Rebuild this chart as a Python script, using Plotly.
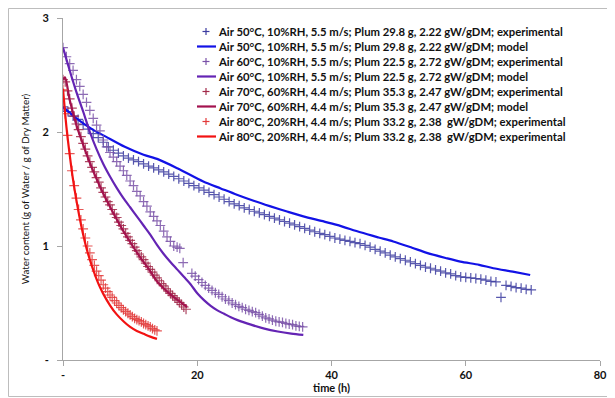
import plotly.graph_objects as go

FONT = "Lato"

# ---------------- data ----------------
# Air 50°C experimental
t_50_exp = [0, 0.75, 1.5, 2.25, 3.0, 3.75, 4.5, 5.25, 6.0, 6.75, 7.5, 8.25, 9.0, 9.75, 10.5, 11.25,
            12.0, 12.75, 13.5, 14.25, 15.0, 15.75, 16.5, 17.25, 18.0, 18.75, 19.5, 20.25, 21.0, 21.75,
            22.5, 23.25, 24.0, 24.75, 25.5, 26.25, 27.0, 27.75, 28.5, 29.25, 30.0, 30.75, 31.5, 32.25,
            33.0, 33.75, 34.5, 35.25, 36.0, 36.75, 37.5, 38.25, 39.0, 39.75, 40.5, 41.25, 42.0, 42.75,
            43.5, 44.25, 45.0, 45.75, 46.5, 47.25, 48.0, 48.75, 49.5, 50.25, 51.0, 51.75, 52.5, 53.25,
            54.0, 54.75, 55.5, 56.25, 57.0, 57.75, 58.5, 59.25, 60.0, 60.75, 61.5, 62.25, 63.0, 63.75,
            64.5, 65.25, 66.0, 66.75, 67.5, 68.25, 69.0, 69.75]
w_50_exp = [2.22, 2.18, 2.14, 2.11, 2.065, 2.025, 1.985, 1.95, 1.91, 1.87, 1.84, 1.815, 1.79, 1.77,
            1.755, 1.74, 1.72, 1.70, 1.685, 1.667, 1.65, 1.63, 1.61, 1.59, 1.57, 1.55, 1.53, 1.51,
            1.49, 1.47, 1.45, 1.43, 1.41, 1.39, 1.37, 1.355, 1.335, 1.32, 1.305, 1.29, 1.275, 1.26,
            1.245, 1.23, 1.215, 1.20, 1.185, 1.17, 1.155, 1.14, 1.125, 1.11, 1.10, 1.085, 1.07, 1.06,
            1.05, 1.04, 1.03, 1.02, 1.005, 0.99, 0.97, 0.955, 0.94, 0.92, 0.905, 0.89, 0.875, 0.86,
            0.845, 0.83, 0.815, 0.805, 0.79, 0.78, 0.765, 0.755, 0.74, 0.73, 0.725, 0.72, 0.715, 0.71,
            0.70, 0.69, 0.685, 0.55, 0.655, 0.645, 0.635, 0.63, 0.62, 0.615]
# Air 50°C model
t_50_mod = [0, 2, 4.2, 6.5, 9.2, 12, 14.2, 17.1, 20.9, 23.5, 25.9, 28.5, 30.8, 33.5, 35.8, 38.5,
            40.8, 44.3, 47, 49.2, 52, 54.2, 57, 59.2, 62, 64.1, 67, 69.6]
w_50_mod = [2.22, 2.12, 2.03, 1.955, 1.87, 1.80, 1.76, 1.68, 1.565, 1.505, 1.45, 1.395, 1.35, 1.30,
            1.26, 1.22, 1.185, 1.12, 1.075, 1.04, 0.985, 0.94, 0.895, 0.863, 0.835, 0.805, 0.775, 0.746]

# Air 60°C experimental
t_60_exp = [0, 0.5, 1.0, 1.5, 2.0, 2.5, 3.0, 3.5, 4.0, 4.5, 5.0, 5.5, 6.0, 6.5, 7.0, 7.5, 8.0, 8.5,
            9.0, 9.5, 10.0, 10.5, 11.0, 11.5, 12.0, 12.5, 13.0, 13.5, 14.0, 14.5, 15.0, 15.5, 16.0,
            16.5, 17.0, 17.4, 17.9, 19.2, 19.7, 20.2, 20.7, 21.2, 21.7, 22.2, 22.7, 23.2, 23.7, 24.2,
            24.7, 25.2, 25.7, 26.2, 26.7, 27.2, 27.7, 28.2, 28.7, 29.2, 29.7, 30.2, 30.7, 31.2, 31.7,
            32.2, 32.7, 33.2, 33.7, 34.2, 34.7, 35.2, 35.7]
w_60_exp = [2.74, 2.66, 2.60, 2.54, 2.46, 2.40, 2.33, 2.26, 2.19, 2.12, 2.06, 2.01, 1.93, 1.87, 1.82,
            1.78, 1.74, 1.70, 1.66, 1.62, 1.57, 1.53, 1.48, 1.44, 1.39, 1.35, 1.30, 1.26, 1.22, 1.18,
            1.13, 1.08, 1.04, 1.00, 0.99, 0.98, 0.855, 0.76, 0.735, 0.705, 0.68, 0.655, 0.63, 0.61,
            0.59, 0.575, 0.555, 0.535, 0.52, 0.50, 0.485, 0.47, 0.46, 0.445, 0.435, 0.425, 0.415,
            0.40, 0.385, 0.37, 0.36, 0.35, 0.34, 0.335, 0.33, 0.32, 0.315, 0.31, 0.30, 0.295, 0.29]
# Air 60°C model
t_60_mod = [0, 1, 2, 3, 4, 5, 6, 7, 8, 9, 10, 11, 12, 13, 14, 15, 16, 17, 18, 19, 20, 21, 22, 23,
            24, 25, 26, 28, 30, 32, 34, 35.8]
w_60_mod = [2.74, 2.54, 2.35, 2.18, 2.00, 1.85, 1.72, 1.61, 1.51, 1.42, 1.34, 1.26, 1.18, 1.10, 1.01,
            0.93, 0.86, 0.795, 0.73, 0.665, 0.585, 0.525, 0.475, 0.435, 0.405, 0.375, 0.35, 0.31,
            0.275, 0.25, 0.232, 0.22]

# Air 70°C experimental
t_70_exp = [0, 0.33, 0.67, 1.0, 1.33, 1.67, 2.0, 2.33, 2.67, 3.0, 3.33, 3.67, 4.0, 4.33, 4.67, 5.0,
            5.33, 5.67, 6.0, 6.33, 6.67, 7.0, 7.33, 7.67, 8.0, 8.33, 8.67, 9.0, 9.33, 9.67, 10.0,
            10.33, 10.67, 11.0, 11.33, 11.67, 12.0, 12.33, 12.67, 13.0, 13.33, 13.67, 14.0, 14.33,
            14.67, 15.0, 15.33, 15.67, 16.0, 16.33, 16.67, 17.0, 17.33, 17.67, 18.0, 18.33]
w_70_exp = [2.46, 2.44, 2.36, 2.29, 2.21, 2.14, 2.07, 2.02, 1.96, 1.90, 1.85, 1.79, 1.74, 1.69, 1.65,
            1.60, 1.56, 1.51, 1.47, 1.43, 1.39, 1.36, 1.32, 1.28, 1.25, 1.21, 1.18, 1.15, 1.11, 1.08,
            1.05, 1.02, 0.99, 0.96, 0.93, 0.905, 0.88, 0.85, 0.82, 0.795, 0.77, 0.745, 0.72, 0.695,
            0.67, 0.65, 0.625, 0.605, 0.585, 0.565, 0.545, 0.525, 0.505, 0.485, 0.465, 0.445]
# Air 70°C model
t_70_mod = [0, 0.3, 1, 2, 3, 4, 5, 6, 7, 8, 9, 10, 11, 12, 13, 14, 15, 16, 17, 18, 18.5]
w_70_mod = [2.46, 2.48, 2.28, 2.06, 1.89, 1.73, 1.59, 1.46, 1.345, 1.235, 1.13, 1.035, 0.945, 0.86,
            0.78, 0.69, 0.63, 0.575, 0.53, 0.485, 0.465]

# Air 80°C experimental
t_80_exp = [0, 0.33, 0.67, 1.0, 1.33, 1.67, 2.0, 2.33, 2.67, 3.0, 3.33, 3.67, 4.0, 4.33, 4.67, 5.0,
            5.33, 5.67, 6.0, 6.33, 6.67, 7.0, 7.33, 7.67, 8.0, 8.33, 8.67, 9.0, 9.33, 9.67, 10.0,
            10.33, 10.67, 11.0, 11.33, 11.67, 12.0, 12.33, 12.67, 13.0, 13.33, 13.67, 14.0]
w_80_exp = [2.37, 2.16, 1.97, 1.81, 1.66, 1.53, 1.42, 1.32, 1.23, 1.15, 1.07, 1.00, 0.94, 0.88, 0.83,
            0.78, 0.74, 0.70, 0.66, 0.63, 0.60, 0.57, 0.55, 0.52, 0.50, 0.48, 0.46, 0.44, 0.425, 0.41,
            0.395, 0.38, 0.365, 0.355, 0.345, 0.335, 0.32, 0.31, 0.30, 0.29, 0.275, 0.265, 0.255]
# Air 80°C model (labelled "experimental" in the original legend)
t_80_mod = [0, 0.5, 1, 1.5, 2, 2.5, 3, 3.5, 4, 4.5, 5, 5.5, 6, 7, 8, 9, 10, 11, 12, 13, 14]
w_80_mod = [2.38, 2.05, 1.80, 1.58, 1.40, 1.24, 1.10, 0.98, 0.88, 0.79, 0.71, 0.64, 0.58, 0.48, 0.40,
            0.34, 0.29, 0.255, 0.23, 0.205, 0.185]

names = [
    "Air 50°C, 10%RH, 5.5 m/s; Plum 29.8 g, 2.22 gW/gDM; experimental",
    "Air 50°C, 10%RH, 5.5 m/s; Plum 29.8 g, 2.22 gW/gDM; model",
    "Air 60°C, 10%RH, 5.5 m/s; Plum 22.5 g, 2.72 gW/gDM; experimental",
    "Air 60°C, 10%RH, 5.5 m/s; Plum 22.5 g, 2.72 gW/gDM; model",
    "Air 70°C, 60%RH, 4.4 m/s; Plum 35.3 g, 2.47 gW/gDM; experimental",
    "Air 70°C, 60%RH, 4.4 m/s; Plum 35.3 g, 2.47 gW/gDM; model",
    "Air 80°C, 20%RH, 4.4 m/s; Plum 33.2 g, 2.38 \u00a0gW/gDM; experimental",
    "Air 80°C, 20%RH, 4.4 m/s; Plum 33.2 g, 2.38 \u00a0gW/gDM; experimental",
]

x_tick_vals = [0, 20, 40, 60, 80]
x_tick_text = ["-", "20", "40", "60", "80"]
y_tick_vals = [0, 1, 2, 3]
y_tick_text = ["-", "1", "2", "3"]

# ---------------- figure ----------------
series = [
    (t_50_exp, w_50_exp, "markers", "#3C3CA0"),
    (t_50_mod, w_50_mod, "lines", "#1212E6"),
    (t_60_exp, w_60_exp, "markers", "#7A52A8"),
    (t_60_mod, w_60_mod, "lines", "#6424B4"),
    (t_70_exp, w_70_exp, "markers", "#A22A4A"),
    (t_70_mod, w_70_mod, "lines", "#A3124E"),
    (t_80_exp, w_80_exp, "markers", "#E23A3A"),
    (t_80_mod, w_80_mod, "lines", "#F21212"),
]

# page body adds an 8 px margin; size the figure so it fills the 615x398 window
OFF = 8
W, H = 615 - OFF, 398 - OFF
# plot area in window pixels: x 63..600, y 18..360
ML, MR, MT, MB = 63 - OFF, 615 - 600, 18 - OFF, 398 - 360
PW, PH = W - ML - MR, H - MT - MB


def px2paper(px, py):
    """window pixel -> paper coordinates"""
    return (px - OFF - ML) / PW, (H - MB - (py - OFF)) / PH


fig = go.Figure()
for (t, w, mode, col), nm in zip(series, names):
    if mode == "markers":
        fig.add_trace(go.Scatter(
            x=t, y=w, mode="markers", name=nm,
            marker=dict(symbol="cross-thin", size=7, line=dict(width=1.2, color=col), color=col,
                        opacity=0.85)))
    else:
        fig.add_trace(go.Scatter(
            x=t, y=w, mode="lines", name=nm,
            line=dict(color=col, width=2.2, shape="spline", smoothing=0.8)))

# hand-built legend (15 px row pitch, like the original)
shapes = []
annotations = []
for i, ((t, w, mode, col), nm) in enumerate(zip(series, names)):
    row_y = 31.5 + 15 * i
    tx, ty = px2paper(216, row_y)
    annotations.append(dict(
        xref="paper", yref="paper", x=tx, y=ty, xanchor="left", yanchor="middle",
        text=nm, showarrow=False,
        font=dict(family=FONT, size=11.3, color="#111111", weight="bold")))
    if mode == "lines":
        x0, y0 = px2paper(197, row_y)
        x1, _ = px2paper(216, row_y)
        shapes.append(dict(type="line", xref="paper", yref="paper", x0=x0, x1=x1, y0=y0, y1=y0,
                           line=dict(color=col, width=2.2)))
    else:
        cx, cy = px2paper(206, row_y)
        dx, dy = 3.5 / PW, 3.5 / PH
        shapes.append(dict(type="line", xref="paper", yref="paper", x0=cx - dx, x1=cx + dx,
                           y0=cy, y1=cy, line=dict(color=col, width=1.2)))
        shapes.append(dict(type="line", xref="paper", yref="paper", x0=cx, x1=cx,
                           y0=cy - dy, y1=cy + dy, line=dict(color=col, width=1.2)))

# outer chart frame
fx0, fy1 = px2paper(8.5, 8.5)
fx1, fy0 = px2paper(640, 396.5)
shapes.append(dict(type="rect", xref="paper", yref="paper", x0=fx0, x1=fx1, y0=fy0, y1=fy1,
                   line=dict(color="#BDBDBD", width=1), fillcolor="rgba(0,0,0,0)", layer="below"))

axis_line = "#A6A6A6"
fig.update_layout(
    width=W, height=H,
    margin=dict(l=ML, r=MR, t=MT, b=MB),
    paper_bgcolor="white", plot_bgcolor="white",
    font=dict(family=FONT, color="#111111"),
    showlegend=False,
    shapes=shapes, annotations=annotations,
    xaxis=dict(
        range=[0, 80], tickvals=x_tick_vals, ticktext=x_tick_text, automargin=False,
        showgrid=False, zeroline=False, showline=True, linecolor=axis_line, linewidth=1,
        ticks="outside", ticklen=5, tickcolor=axis_line,
        tickfont=dict(family=FONT, size=11, weight="bold", color="#111111"),
        title=dict(text="time (h)", standoff=1,
                   font=dict(family=FONT, size=11, weight="bold", color="#111111")),
    ),
    yaxis=dict(
        range=[0, 3], tickvals=y_tick_vals, ticktext=y_tick_text, automargin=False,
        showgrid=False, zeroline=False, showline=True, linecolor=axis_line, linewidth=1,
        ticks="outside", ticklen=5, tickcolor=axis_line, ticklabelstandoff=6,
        tickfont=dict(family=FONT, size=11, weight="bold", color="#111111"),
        title=dict(text="Water content (g of Water / g of Dry Matter)", standoff=10,
                   font=dict(family=FONT, size=9.8, color="#111111")),
    ),
)

fig.write_html("out.html")
